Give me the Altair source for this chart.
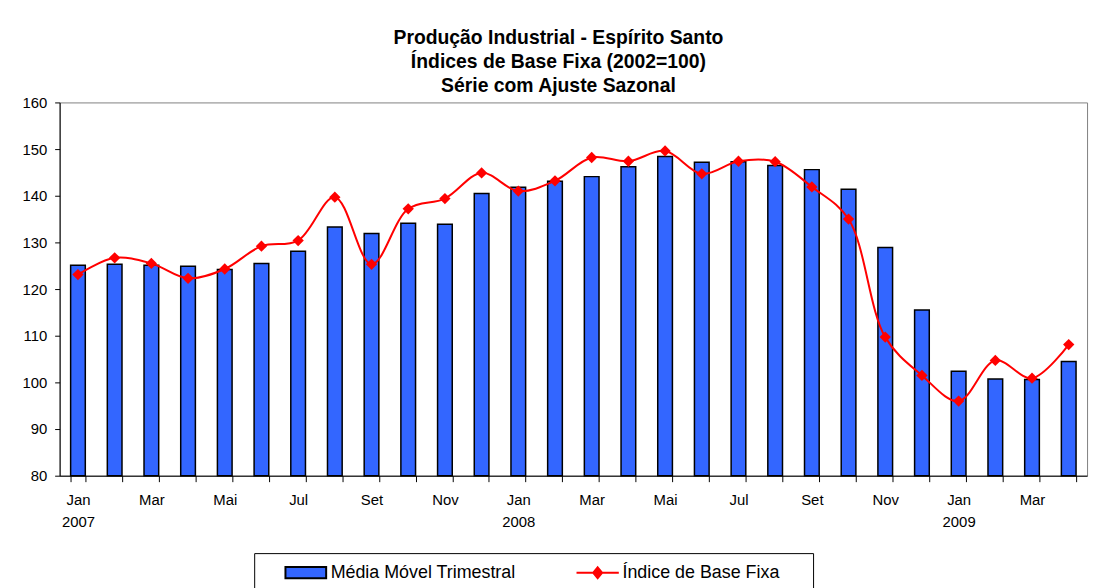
import altair as alt
import pandas as pd

anos = [2007] * 12 + [2008] * 12 + [2009] * 4
meses_num = list(range(1, 13)) + list(range(1, 13)) + [1, 2, 3, 4]
meses_nome = ["Jan", "Fev", "Mar", "Abr", "Mai", "Jun", "Jul", "Ago", "Set", "Out", "Nov", "Dez"]

media_movel = [125.1, 125.3, 125.1, 124.9, 124.2, 125.5, 128.1, 133.3, 131.9, 134.1, 133.9, 140.5,
               141.8, 143.1, 144.1, 146.2, 148.4, 147.2, 147.3, 146.5, 145.6, 141.4, 128.9, 115.5,
               102.4, 100.7, 100.6, 104.5]
indice = [123.1, 126.7, 125.5, 122.3, 124.3, 129.2, 130.4, 139.7, 125.3, 137.2, 139.4, 144.9,
          141.0, 143.2, 148.2, 147.4, 149.6, 144.7, 147.4, 147.3, 141.9, 135.0, 109.7, 101.5,
          96.0, 104.7, 100.9, 108.1]

serie_barra = "Média Móvel Trimestral"
serie_linha = "Índice de Base Fixa"
titulo = ["Produção Industrial - Espírito Santo", "Índices de Base Fixa (2002=100)", "Série com Ajuste Sazonal"]

periodos = [f"{a}-{m:02d}" for a, m in zip(anos, meses_num)]
df_b = pd.DataFrame({"periodo": periodos, "valor": media_movel, "serie": serie_barra})
df_l = pd.DataFrame({"periodo": periodos, "valor": indice, "serie": serie_linha})
df_leg = pd.DataFrame({"periodo": periodos[:2], "valor": [media_movel[0], indice[0]],
                       "serie": [serie_barra, serie_linha]})

nomes_js = "[" + ",".join(f"'{n}'" for n in meses_nome) + "]"
mes = "toNumber(substring(datum.value,5,7))"
label_expr = (
    f"{mes} == 1 ? [{nomes_js}[0], substring(datum.value,0,4)] : "
    f"({mes} % 2 == 1 ? [{nomes_js}[{mes}-1], ''] : '')"
)

FONT = "Liberation Sans"
AZUL = "#3366FF"
VERMELHO = "#FF0000"

xenc = alt.X("periodo:N", sort=None, title=None,
             scale=alt.Scale(paddingInner=0.6, paddingOuter=0.3),
             axis=alt.Axis(labelExpr=label_expr, labelAngle=0, tickBand="extent", tickSize=6,
                           labelPadding=11, labelBaseline="top", labelLineHeight=22,
                           labelOverlap=False, domainColor="black", tickColor="black",
                           labelFont=FONT, labelFontSize=15, labelColor="black"))
yscale = alt.Scale(domain=[80, 160], nice=False, zero=False)
yaxis = alt.Axis(values=list(range(80, 161, 10)), grid=False, tickSize=5, domainColor="black",
                 tickColor="black", labelFont=FONT, labelFontSize=15, labelColor="black", labelPadding=8)

rect_path = "M-4.1,-1.14H4.1V1.14H-4.1Z"
linha_path = "M-4.26,0H4.26M0,-1.1L0.9,0L0,1.1L-0.9,0Z"

legend = alt.Legend(
    orient="none", legendX=196, legendY=454, direction="horizontal",
    title=" ", titleOrient="right", titlePadding=23, titleFontSize=2,
    strokeColor="black", padding=10.5, symbolSize=100, symbolStrokeWidth=2, symbolOpacity=1,
    symbolOffset=32.5, labelOffset=16, columnPadding=41, gridAlign="all", labelLimit=400,
    labelFont=FONT, labelFontSize=18, labelColor="black",
)
dom = [serie_barra, serie_linha]

helper = alt.Chart(df_leg).mark_point(filled=True, size=0).encode(
    x=xenc, y=alt.Y("valor:Q", scale=yscale),
    color=alt.Color("serie:N", scale=alt.Scale(domain=dom, range=[AZUL, VERMELHO]), legend=legend),
    stroke=alt.Stroke("serie:N", scale=alt.Scale(domain=dom, range=["black", VERMELHO]), legend=legend),
    shape=alt.Shape("serie:N", scale=alt.Scale(domain=dom, range=[rect_path, linha_path]), legend=legend),
)

bars = alt.Chart(df_b).mark_bar(color=AZUL, stroke="black", strokeWidth=1.5).encode(
    x=xenc, y=alt.Y("valor:Q", scale=yscale, axis=yaxis, title=None), y2=alt.datum(80))
line = alt.Chart(df_l).mark_line(color=VERMELHO, strokeWidth=2, interpolate="catmull-rom").encode(
    x=xenc, y=alt.Y("valor:Q", scale=yscale))
pts = alt.Chart(df_l).mark_point(shape="diamond", filled=True, size=130, opacity=1, color=VERMELHO).encode(
    x=xenc, y=alt.Y("valor:Q", scale=yscale))

chart = alt.layer(helper, bars, line, pts).properties(
    width=1035, height=376,
    autosize=alt.AutoSizeParams(type="none"),
    padding={"left": 52, "top": 93, "right": 8, "bottom": 111},
    title=alt.TitleParams(text=titulo, font=FONT, fontSize=19.5, fontWeight="bold", color="black",
                          lineHeight=24, anchor="middle", dx=-15, offset=-1),
).configure_view(stroke="#808080", strokeWidth=1)

chart.save("out.html", embed_options={"renderer": "svg", "actions": False})
